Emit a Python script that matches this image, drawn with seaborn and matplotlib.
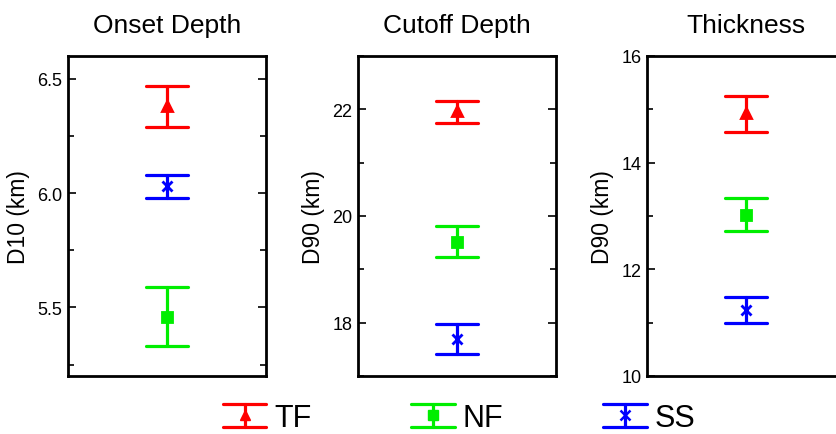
import numpy as np
import pandas as pd
import seaborn as sns
import matplotlib
matplotlib.use("Agg")
import matplotlib.pyplot as plt
from matplotlib.ticker import AutoMinorLocator, FormatStrFormatter
from matplotlib.legend_handler import HandlerBase
from matplotlib.lines import Line2D

# ---- data ----
groups = ["TF", "NF", "SS"]
panel_titles = ["Onset Depth", "Cutoff Depth", "Thickness"]
panel_ylabels = ["D10 (km)", "D90 (km)", "D90 (km)"]

onset_mean = [6.38, 5.46, 6.03]
onset_low = [6.29, 5.33, 5.98]
onset_high = [6.47, 5.59, 6.08]

cutoff_mean = [21.96, 19.52, 17.70]
cutoff_low = [21.75, 19.23, 17.42]
cutoff_high = [22.16, 19.81, 17.98]

thick_mean = [14.93, 13.02, 11.24]
thick_low = [14.57, 12.72, 11.00]
thick_high = [15.25, 13.33, 11.48]

ylims = [(5.2, 6.6), (17, 23), (10, 16)]
yticks = [[5.5, 6.0, 6.5], [18, 20, 22], [10, 12, 14, 16]]
yfmt = ["%.1f", "%d", "%d"]

colors = ["#FF0000", "#00EE00", "#0000FF"]
markers = ["^", "s", "x"]

panels = [
    (onset_mean, onset_low, onset_high),
    (cutoff_mean, cutoff_low, cutoff_high),
    (thick_mean, thick_low, thick_high),
]

sns.set_style("ticks")
plt.rcParams["font.family"] = ["Liberation Sans", "DejaVu Sans"]
for k in ["text.color", "axes.labelcolor", "xtick.color", "ytick.color", "axes.edgecolor"]:
    plt.rcParams[k] = "black"

W, H = 837, 435
fig = plt.figure(figsize=(W / 100, H / 100), dpi=100)

lefts_px = [68, 358, 647]
axw, top_px, bot_px = 198, 57, 377

for i, (means, lows, highs) in enumerate(panels):
    ax = fig.add_axes([lefts_px[i] / W, 1 - bot_px / H, axw / W, (bot_px - top_px) / H])
    rows = []
    for g, m, lo, hi in zip(groups, means, lows, highs):
        for v in (lo, m, hi):
            rows.append({"pos": "", "group": g, "value": v})
    df = pd.DataFrame(rows)
    sns.pointplot(
        data=df, x="pos", y="value", hue="group", hue_order=groups,
        estimator="median", errorbar=lambda v: (v.min(), v.max()),
        markers=markers, linestyles="none", palette=colors,
        capsize=0.21, dodge=False, legend=False, ax=ax,
        err_kws={"linewidth": 2.3}, markersize=7,
    )
    ax.set_xlim(-0.5, 0.5)
    ax.set_ylim(*ylims[i])
    ax.set_yticks(yticks[i])
    ax.yaxis.set_major_formatter(FormatStrFormatter(yfmt[i]))
    ax.yaxis.set_minor_locator(AutoMinorLocator(2))
    ax.set_xticks([])
    ax.set_xlabel("")
    ax.set_ylabel(panel_ylabels[i], fontsize=16.5, labelpad=5, color="black")
    ax.set_title(panel_titles[i], fontsize=19, pad=17, color="black")
    ax.tick_params(axis="y", which="both", direction="in", right=True,
                   labelsize=13, width=1.2, pad=4, colors="black")
    ax.tick_params(axis="y", which="major", length=6)
    ax.tick_params(axis="y", which="minor", length=4)
    for sp in ax.spines.values():
        sp.set_visible(True)
        sp.set_linewidth(2)
        sp.set_color("black")


class ErrHandler(HandlerBase):
    def create_artists(self, legend, orig_handle, xdescent, ydescent,
                       width, height, fontsize, trans):
        c = orig_handle.get_color()
        m = orig_handle.get_marker()
        x0, x1 = -xdescent, -xdescent + width
        y0, y1 = -ydescent, -ydescent + height
        xm, ym = (x0 + x1) / 2, (y0 + y1) / 2
        arts = [
            Line2D([x0, x1], [y1, y1], color=c, lw=2.3),
            Line2D([x0, x1], [y0, y0], color=c, lw=2.3),
            Line2D([xm, xm], [y0, y1], color=c, lw=2.3),
            Line2D([xm], [ym], color=c, marker=m, markersize=7,
                   markeredgewidth=1.8 if m == "x" else 1, linestyle="none"),
        ]
        for a in arts:
            a.set_transform(trans)
        return arts


handles = [Line2D([], [], color=c, marker=mk, linestyle="none") for c, mk in zip(colors, markers)]
leg = fig.legend(handles, groups, loc="center", bbox_to_anchor=(459 / W, 1 - 419 / H),
                 ncol=3, frameon=False, fontsize=22, handlelength=1.43, handleheight=0.78,
                 handletextpad=0.25, columnspacing=3.27,
                 handler_map={Line2D: ErrHandler()})
for t in leg.get_texts():
    t.set_color("black")

fig.savefig("out.png", dpi=100)
